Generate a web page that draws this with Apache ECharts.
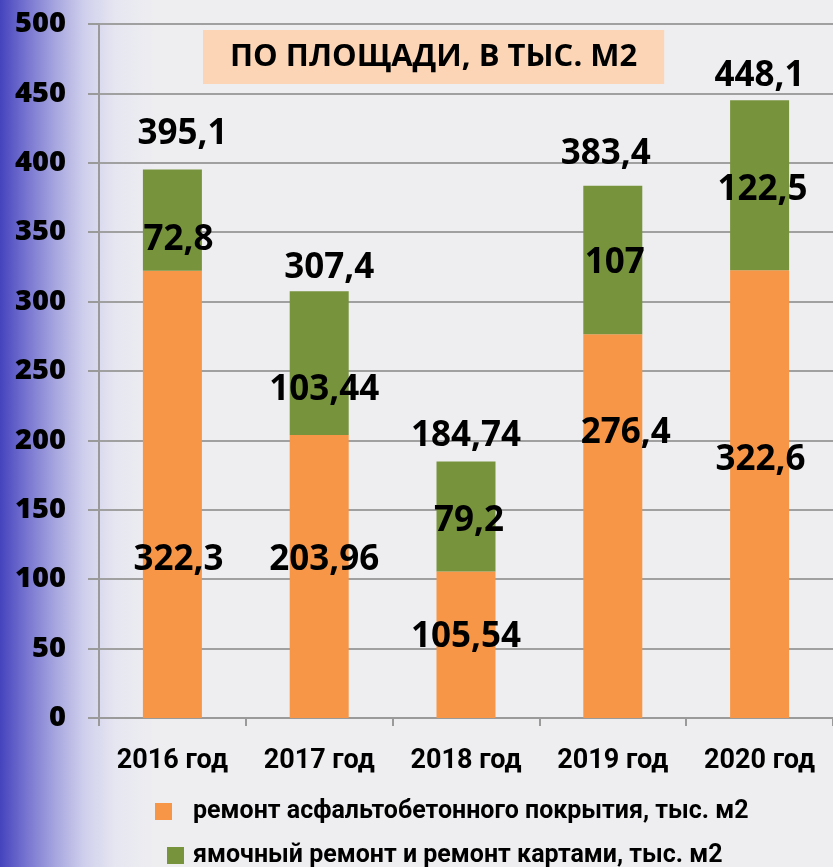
<!DOCTYPE html>
<html>
<head>
<meta charset="utf-8">
<script src="https://cdn.jsdelivr.net/npm/echarts@6/dist/echarts.min.js"></script>
<style>
  html, body { margin: 0; padding: 0; }
  body {
    width: 833px; height: 867px; overflow: hidden;
    background: linear-gradient(to right, #4543bd 0px, #7472cf 25px, #a6a5df 55px, #d0d0ed 85px, #e6e6f1 115px, #eeeef1 155px);
  }
  #chart { width: 833px; height: 867px; }
</style>
</head>
<body>
<div id="chart"></div>
<script>
  var years = ['2016 год', '2017 год', '2018 год', '2019 год', '2020 год'];
  var asphalt = [322.3, 203.96, 105.54, 276.4, 322.6];
  var patch = [72.8, 103.44, 79.2, 107, 122.5];
  var totals = [395.1, 307.4, 184.74, 383.4, 448.1];
  var yTicks = [0, 50, 100, 150, 200, 250, 300, 350, 400, 450, 500];
  var nameA = 'ремонт асфальтобетонного покрытия, тыс. м2';
  var nameB = 'ямочный ремонт и ремонт картами, тыс. м2';

  // сдвиги подписей, как на слайде
  var shiftAsphalt = [[6, 66], [5, -16], [0, -8], [13, -93], [1, -34]];
  var shiftPatch = [[6, 20], [5, 27], [3, 4], [2, 3], [3, 5]];
  var shiftTotal = [[10, -13], [10, -1], [0, -3], [-7, -9], [0, -2]];

  function fmt(v) {
    return String(v).replace('.', ',');
  }

  var labelFont = {
    fontFamily: 'Open Sans',
    fontWeight: 'bold',
    fontSize: 35,
    color: '#000'
  };

  function items(arr, shifts) {
    var res = [];
    for (var i = 0; i < arr.length; i++) {
      res.push({
        value: arr[i],
        label: { offset: shifts[i] }
      });
    }
    return res;
  }

  var legendText = {
    fontFamily: 'Roboto',
    fontWeight: 'bold',
    fontSize: 25,
    color: '#000'
  };

  var myChart = echarts.init(document.getElementById('chart'));
  var option = {
    animation: false,
    backgroundColor: 'transparent',
    title: {
      text: 'ПО ПЛОЩАДИ, В ТЫС. М2',
      left: 203,
      top: 30,
      padding: [11, 27, 11, 27],
      backgroundColor: '#fbd5b5',
      textStyle: {
        fontFamily: 'Open Sans',
        fontWeight: 'bold',
        fontSize: 31,
        lineHeight: 32,
        color: '#000'
      }
    },
    grid: {
      left: 99,
      right: 0,
      top: 24,
      bottom: 149,
      containLabel: false
    },
    legend: [
      {
        data: [nameA],
        left: 150,
        top: 794,
        icon: 'rect',
        itemWidth: 17,
        itemHeight: 17,
        textStyle: Object.assign({ padding: [0, 0, 0, 16] }, legendText)
      },
      {
        data: [nameB],
        left: 162,
        top: 838,
        icon: 'rect',
        itemWidth: 17,
        itemHeight: 17,
        textStyle: Object.assign({ padding: [0, 0, 0, 4] }, legendText)
      }
    ],
    xAxis: {
      type: 'category',
      data: years,
      axisLine: { lineStyle: { color: '#9a9a9a', width: 2 } },
      axisTick: { show: true, length: 8, lineStyle: { color: '#9a9a9a', width: 2 } },
      axisLabel: {
        margin: 30,
        fontFamily: 'Roboto',
        fontWeight: 'bold',
        fontSize: 27,
        color: '#000'
      }
    },
    yAxis: {
      type: 'value',
      min: yTicks[0],
      max: yTicks[yTicks.length - 1],
      interval: 50,
      axisLine: { show: true, lineStyle: { color: '#9a9a9a', width: 2 } },
      axisTick: { show: true, length: 11, lineStyle: { color: '#9a9a9a', width: 2 } },
      splitLine: { lineStyle: { color: '#a0a0a0', width: 2 } },
      axisLabel: {
        margin: 33,
        fontFamily: 'Open Sans',
        fontWeight: 800,
        fontSize: 29,
        color: '#000'
      }
    },
    series: [
      {
        name: nameA,
        type: 'bar',
        stack: 'all',
        barWidth: 59,
        itemStyle: { color: '#f79646' },
        label: Object.assign({
          show: true,
          position: 'inside',
          formatter: function (p) { return fmt(p.value); }
        }, labelFont),
        data: items(asphalt, shiftAsphalt)
      },
      {
        name: nameB,
        type: 'bar',
        stack: 'all',
        barWidth: 59,
        itemStyle: { color: '#77933c' },
        label: Object.assign({
          show: true,
          position: 'inside',
          formatter: function (p) { return fmt(p.value); }
        }, labelFont),
        data: items(patch, shiftPatch)
      },
      {
        name: 'итого',
        type: 'bar',
        stack: 'all',
        barWidth: 59,
        itemStyle: { color: 'transparent' },
        label: Object.assign({
          show: true,
          position: 'top',
          distance: 5,
          formatter: function (p) { return fmt(totals[p.dataIndex]); }
        }, labelFont),
        data: items([0, 0, 0, 0, 0], shiftTotal)
      }
    ]
  };
  myChart.setOption(option);
</script>
</body>
</html>
